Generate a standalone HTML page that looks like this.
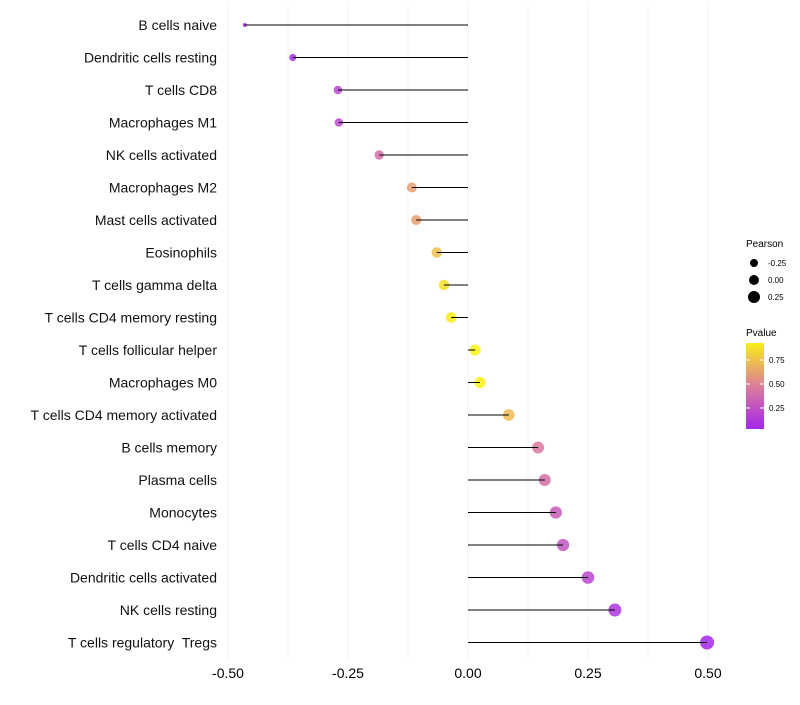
<!DOCTYPE html>
<html><head><meta charset="utf-8"><style>
body{margin:0;background:#fff;font-family:"Liberation Sans",sans-serif}
text{white-space:pre}
</style></head><body>
<svg id="c" width="800" height="700" font-family="Liberation Sans, sans-serif"></svg>
<script>
const categories=["B cells naive","Dendritic cells resting","T cells CD8","Macrophages M1","NK cells activated","Macrophages M2","Mast cells activated","Eosinophils","T cells gamma delta","T cells CD4 memory resting","T cells follicular helper","Macrophages M0","T cells CD4 memory activated","B cells memory","Plasma cells","Monocytes","T cells CD4 naive","Dendritic cells activated","NK cells resting","T cells regulatory  Tregs"];
const pearson=[-0.465,-0.365,-0.271,-0.269,-0.185,-0.117,-0.108,-0.065,-0.05,-0.035,0.015,0.025,0.085,0.146,0.16,0.183,0.198,0.25,0.306,0.498];
const pvalue=[0.03,0.06,0.2,0.2,0.4,0.62,0.62,0.75,0.87,0.92,0.95,0.93,0.72,0.45,0.4,0.3,0.27,0.2,0.1,0.03];
const xTicks=[-0.5,-0.25,0,0.25,0.5];
const xTickLabels=["-0.50","-0.25","0.00","0.25","0.50"];
const svg=document.getElementById('c');const NS="http://www.w3.org/2000/svg";
function mk(t,a,p){const e=document.createElementNS(NS,t);for(const k in a)e.setAttribute(k,a[k]);(p||svg).appendChild(e);return e;}
const X=v=>468+v*480;
const Y=i=>25+i*32.5;
const R=v=>2+5*Math.sqrt(Math.max(0,v+0.465)/0.963);
function col(p){const s=[[0,[160,32,240]],[0.5,[222,130,150]],[1,[255,255,0]]];let a=s[0],b=s[1];if(p>0.5){a=s[1];b=s[2];}const t=(p-a[0])/(b[0]-a[0]);return 'rgb('+a[1].map((c,k)=>Math.round(c+(b[1][k]-c)*t)).join(',')+')';}
for(let g=-0.5;g<=0.5001;g+=0.125){const l=mk('line',{x1:X(g),x2:X(g),y1:5,y2:660,stroke:'#f3f3f3','stroke-width':1});

}
xTicks.forEach((t,i)=>{const e=mk('text',{x:X(t),y:678,'text-anchor':'middle','font-size':14,fill:'#000'});e.textContent=xTickLabels[i];

});
categories.forEach((c,i)=>{
const tx=mk('text',{x:217,y:Y(i)+5,'text-anchor':'end','font-size':14,fill:'#111'});tx.textContent=c;


const cc=mk('circle',{cx:X(pearson[i]),cy:Y(i),r:R(pearson[i]),fill:col(pvalue[i]),'fill-opacity':0.85});


const ln=mk('line',{x1:X(0),x2:X(pearson[i]),y1:Y(i),y2:Y(i),stroke:'#000','stroke-width':1});


});
const t1=mk('text',{x:746,y:247,'font-size':10});t1.textContent='Pearson';


[[-0.25,263],[0,280],[0.25,297]].forEach((d,i)=>{const c=mk('circle',{cx:754,cy:d[1],r:[4,5,6][i],fill:'#000'});


const t=mk('text',{x:768,y:d[1]+3,'font-size':8});t.textContent=['-0.25','0.00','0.25'][i];

});
const t2=mk('text',{x:746,y:336,'font-size':10});t2.textContent='Pvalue';


const defs=mk('defs',{});const lg=mk('linearGradient',{id:'g',x1:0,y1:1,x2:0,y2:0},defs);
[0,0.5,1].forEach(o=>mk('stop',{offset:o,'stop-color':col(0.03+o*0.9)},lg));
const bar=mk('rect',{x:746,y:343,width:18,height:86,fill:'url(#g)'});


[[0.75,360],[0.5,384],[0.25,408]].forEach(d=>{mk('line',{x1:746,x2:750,y1:d[1],y2:d[1],stroke:'#fff'});mk('line',{x1:760,x2:764,y1:d[1],y2:d[1],stroke:'#fff'});
const t=mk('text',{x:769,y:d[1]+3,'font-size':8});t.textContent=d[0].toFixed(2);

});
</script>
</body></html>
